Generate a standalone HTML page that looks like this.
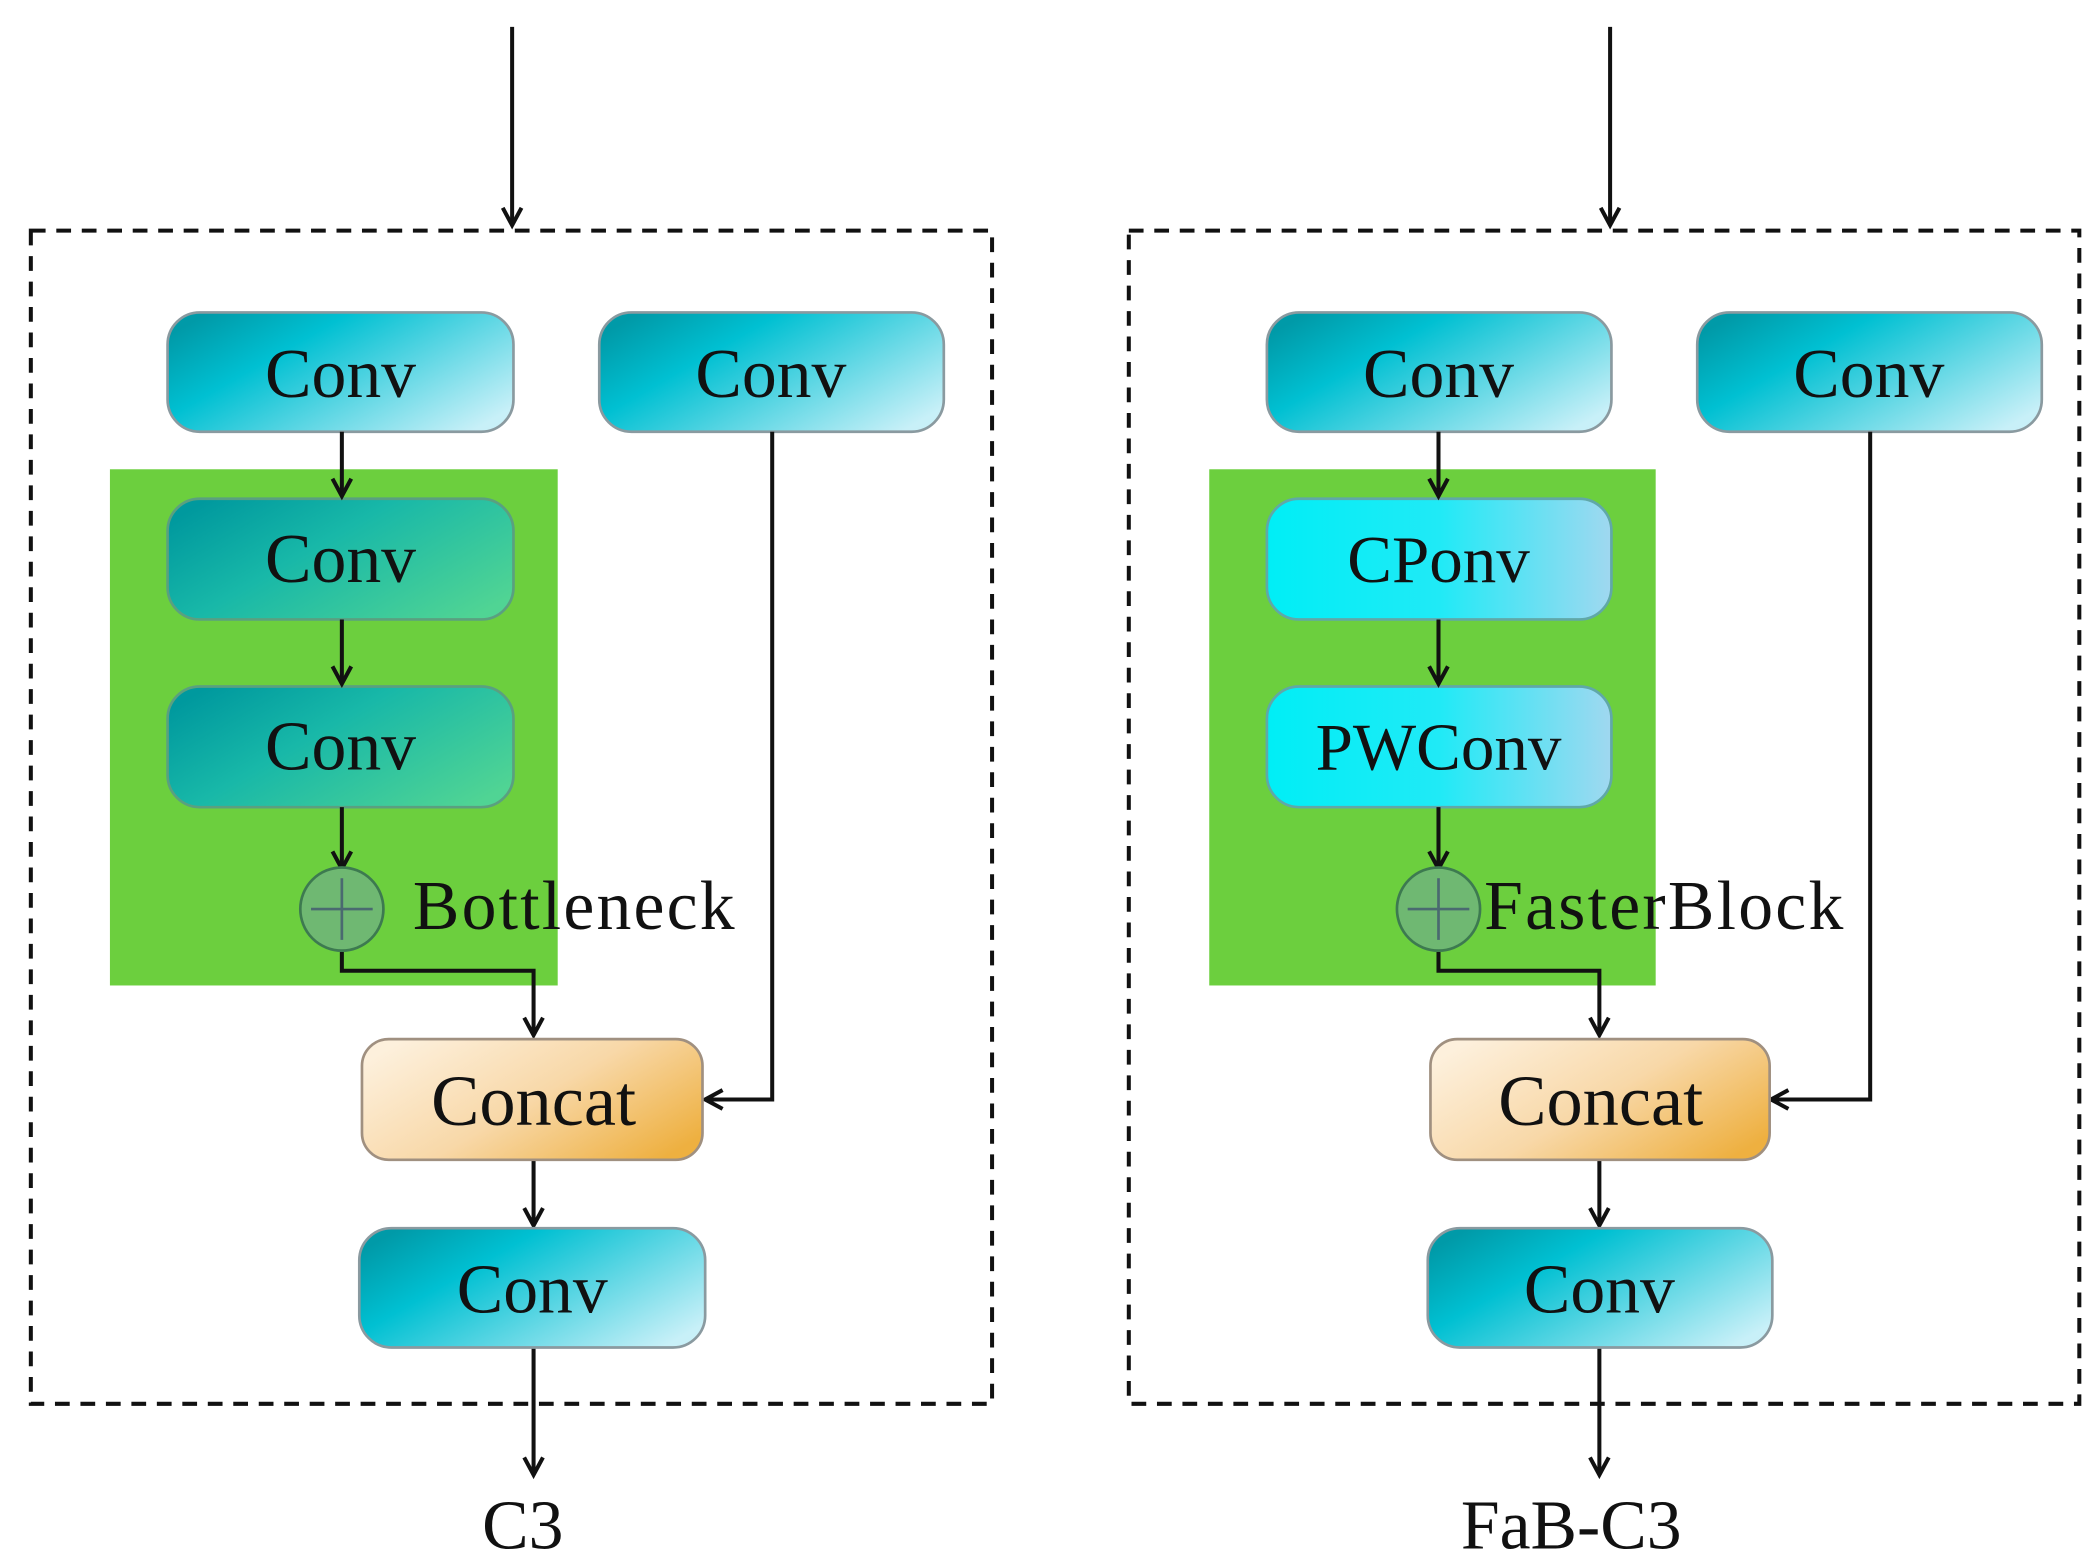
<!DOCTYPE html>
<html><head><meta charset="utf-8"><style>
html,body{margin:0;padding:0;background:#fff;}
svg{display:block;}
text{font-family:"Liberation Serif",serif;fill:#111;}
</style></head><body>
<svg width="2082" height="1558" viewBox="0 0 1553 1162" preserveAspectRatio="none" xmlns="http://www.w3.org/2000/svg">
<defs>
<linearGradient id="cv" x1="0" y1="0.2" x2="1" y2="0.8">
<stop offset="0" stop-color="#009aa8"/><stop offset="0.3" stop-color="#00c0d2"/><stop offset="1" stop-color="#c8f0f8"/></linearGradient>
<linearGradient id="gv" x1="0" y1="0.2" x2="1" y2="0.8">
<stop offset="0" stop-color="#00999e"/><stop offset="0.4" stop-color="#18b8a8"/><stop offset="1" stop-color="#50d494"/></linearGradient>
<linearGradient id="cp" x1="0" y1="0" x2="1" y2="0">
<stop offset="0" stop-color="#00eef6"/><stop offset="0.5" stop-color="#20eaf6"/><stop offset="1" stop-color="#a0d8f0"/></linearGradient>
<linearGradient id="cc" x1="0" y1="0.2" x2="1" y2="0.8">
<stop offset="0" stop-color="#fdf0dc"/><stop offset="0.5" stop-color="#f8d8a8"/><stop offset="1" stop-color="#eeb040"/></linearGradient>
<g id="ah"><polyline points="-7,-13 0,0 7,-13" fill="none" stroke="#111" stroke-width="3"/></g>
</defs>
<g id="L">
<rect x="23" y="172" width="717" height="875" fill="none" stroke="#111" stroke-width="3" stroke-dasharray="11,8"/>
<line x1="382" y1="20" x2="382" y2="168" stroke="#111" stroke-width="3"/>
<use href="#ah" x="382" y="168"/>
<rect x="82" y="350" width="334" height="385" fill="#6ccf3e"/>
<rect x="125" y="233" width="258" height="89" rx="24" fill="url(#cv)" stroke="#8a9aa0" stroke-width="2"/>
<text x="254" y="296" font-size="52" text-anchor="middle">Conv</text>
<rect x="447" y="233" width="257" height="89" rx="24" fill="url(#cv)" stroke="#8a9aa0" stroke-width="2"/>
<text x="575" y="296" font-size="52" text-anchor="middle">Conv</text>
<rect x="125" y="372" width="258" height="90" rx="24" fill="url(#gv)" stroke="#5aa080" stroke-width="2"/>
<text x="254" y="434" font-size="52" text-anchor="middle">Conv</text>
<rect x="125" y="512" width="258" height="90" rx="24" fill="url(#gv)" stroke="#5aa080" stroke-width="2"/>
<text x="254" y="574" font-size="52" text-anchor="middle">Conv</text>
<g stroke="#111" stroke-width="3" fill="none">
<line x1="255" y1="322" x2="255" y2="370"/><line x1="255" y1="462" x2="255" y2="510"/><line x1="255" y1="602" x2="255" y2="648"/>
<polyline points="255,710 255,724 398,724 398,772"/>
<polyline points="576,322 576,820 527,820"/>
<line x1="398" y1="865" x2="398" y2="914"/>
<line x1="398" y1="1005" x2="398" y2="1100"/>
</g>
<use href="#ah" x="255" y="370"/><use href="#ah" x="255" y="510"/><use href="#ah" x="255" y="648"/>
<use href="#ah" x="398" y="772"/><use href="#ah" x="398" y="914"/><use href="#ah" x="398" y="1100"/>
<use href="#ah" transform="translate(526,820) rotate(90)"/>
<circle cx="255" cy="678" r="31" fill="#6fb872" stroke="#3d7a50" stroke-width="2"/>
<line x1="232" y1="678" x2="278" y2="678" stroke="#4a6a70" stroke-width="2"/><line x1="255" y1="655" x2="255" y2="701" stroke="#4a6a70" stroke-width="2"/>
<rect x="270" y="775" width="254" height="90" rx="20" fill="url(#cc)" stroke="#a09080" stroke-width="2"/>
<text x="398" y="839" font-size="54" text-anchor="middle">Concat</text>
<rect x="268" y="916" width="258" height="89" rx="24" fill="url(#cv)" stroke="#8a9aa0" stroke-width="2"/>
<text x="397" y="979" font-size="52" text-anchor="middle">Conv</text>
</g>
<text x="308" y="693" font-size="52" textLength="240">Bottleneck</text>
<text x="390" y="1155" font-size="52" text-anchor="middle">C3</text>
<g transform="translate(819,0)">
<rect x="23" y="172" width="709" height="875" fill="none" stroke="#111" stroke-width="3" stroke-dasharray="11,8"/>
<line x1="382" y1="20" x2="382" y2="168" stroke="#111" stroke-width="3"/>
<use href="#ah" x="382" y="168"/>
<rect x="83" y="350" width="333" height="385" fill="#6ccf3e"/>
<rect x="126" y="233" width="257" height="89" rx="24" fill="url(#cv)" stroke="#8a9aa0" stroke-width="2"/>
<text x="254" y="296" font-size="52" text-anchor="middle">Conv</text>
<rect x="447" y="233" width="257" height="89" rx="24" fill="url(#cv)" stroke="#8a9aa0" stroke-width="2"/>
<text x="575" y="296" font-size="52" text-anchor="middle">Conv</text>
<rect x="126" y="372" width="257" height="90" rx="24" fill="url(#cp)" stroke="#60a8a8" stroke-width="2"/>
<text x="254" y="434" font-size="50" text-anchor="middle">CPonv</text>
<rect x="126" y="512" width="257" height="90" rx="24" fill="url(#cp)" stroke="#60a8a8" stroke-width="2"/>
<text x="254" y="574" font-size="50" text-anchor="middle">PWConv</text>
<g stroke="#111" stroke-width="3" fill="none">
<line x1="254" y1="322" x2="254" y2="370"/><line x1="254" y1="462" x2="254" y2="510"/><line x1="254" y1="602" x2="254" y2="648"/>
<polyline points="254,710 254,724 374,724 374,772"/>
<polyline points="576,322 576,820 503,820"/>
<line x1="374" y1="865" x2="374" y2="914"/>
<line x1="374" y1="1005" x2="374" y2="1100"/>
</g>
<use href="#ah" x="254" y="370"/><use href="#ah" x="254" y="510"/><use href="#ah" x="254" y="648"/>
<use href="#ah" x="374" y="772"/><use href="#ah" x="374" y="914"/><use href="#ah" x="374" y="1100"/>
<use href="#ah" transform="translate(502,820) rotate(90)"/>
<circle cx="254" cy="678" r="31" fill="#6fb872" stroke="#3d7a50" stroke-width="2"/>
<line x1="231" y1="678" x2="277" y2="678" stroke="#4a6a70" stroke-width="2"/><line x1="254" y1="655" x2="254" y2="701" stroke="#4a6a70" stroke-width="2"/>
<rect x="248" y="775" width="253" height="90" rx="20" fill="url(#cc)" stroke="#a09080" stroke-width="2"/>
<text x="375" y="839" font-size="54" text-anchor="middle">Concat</text>
<rect x="246" y="916" width="257" height="89" rx="24" fill="url(#cv)" stroke="#8a9aa0" stroke-width="2"/>
<text x="374" y="979" font-size="52" text-anchor="middle">Conv</text>
<text x="288" y="693" font-size="52" textLength="268">FasterBlock</text>
<text x="353" y="1155" font-size="52" text-anchor="middle">FaB-C3</text>
</g>
</svg>
</body></html>
